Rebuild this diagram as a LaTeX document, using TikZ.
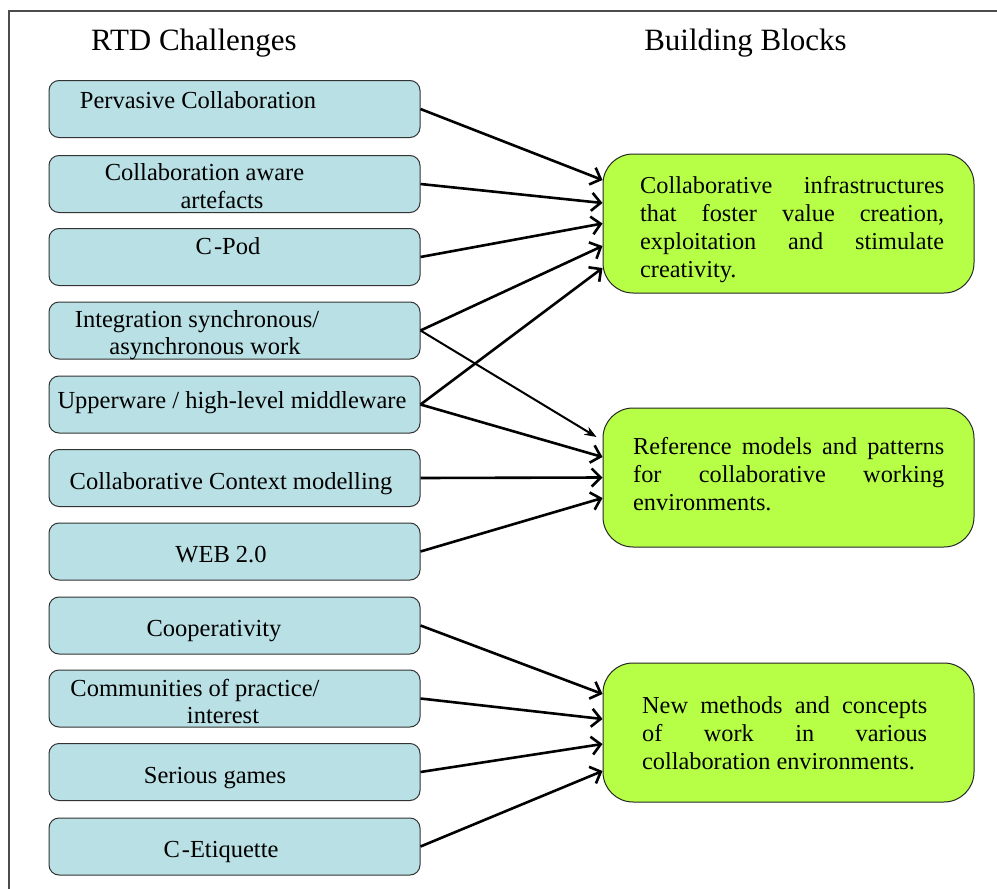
\documentclass[tikz,border=0pt]{standalone}
\usepackage{fontspec}
\setmainfont{Liberation Serif}
\usetikzlibrary{arrows.meta,calc}
\definecolor{boxblue}{RGB}{185,224,228}
\definecolor{boxgreen}{RGB}{183,255,71}
\begin{document}
\begin{tikzpicture}[x=1pt,y=-1pt,
 challenge/.style={draw=black!80, line width=1pt, fill=boxblue, rounded corners=10pt, minimum width=371pt, minimum height=57pt, inner sep=0pt},
 block/.style={draw=black!85, line width=1pt, fill=boxgreen, rounded corners=30pt, minimum width=371pt, minimum height=139pt, inner sep=0pt},
 lbl/.style={anchor=base, inner sep=0pt, font=\fontsize{24.5}{28}\selectfont},
 title/.style={anchor=base, inner sep=0pt, font=\fontsize{31}{36}\selectfont},
 btext/.style={anchor=base west, inner sep=0pt, font=\fontsize{24.3}{28}\selectfont},
 conn/.style={line width=2.6pt, -{Straight Barb[length=9pt,width=18pt]}},
 thinconn/.style={line width=2pt, -{Stealth[length=12pt,width=9pt]}},
]
\useasboundingbox (0,0) rectangle (997,889);
\fill[white] (0,0) rectangle (997,889);
\draw[line width=1.8pt, black!70] (9,889) -- (9,11) -- (997,11);

\node[title] (h1) at (194,50) {RTD Challenges};
\node[title] (h2) at (745.5,50) {Building Blocks};

\node[challenge] (c1) at (234.5,109) {};
\node[challenge] (c2) at (234.5,184) {};
\node[challenge] (c3) at (234.5,257) {};
\node[challenge] (c4) at (234.5,330.5) {};
\node[challenge] (c5) at (234.5,404.5) {};
\node[challenge] (c6) at (234.5,478) {};
\node[challenge] (c7) at (234.5,551.5) {};
\node[challenge] (c8) at (234.5,625.5) {};
\node[challenge] (c9) at (234.5,698.5) {};
\node[challenge] (c10) at (234.5,772) {};
\node[challenge] (c11) at (234.5,846.5) {};

\node[lbl] (t1) at (198,108) {Pervasive Collaboration};
\node[lbl] (t2a) at (204.5,180) {Collaboration aware};
\node[lbl] (t2b) at (222,208) {artefacts};
\node[lbl] (t3) at (228,254) {C\hspace{2pt}-Pod};
\node[lbl] (t4a) at (197,327) {Integration synchronous/};
\node[lbl] (t4b) at (205,354) {asynchronous work};
\node[lbl] (t5) at (232,408) {Upperware / high-level middleware};
\node[lbl] (t6) at (231,489) {Collaborative Context modelling};
\node[lbl] (t7) at (221,562) {WEB 2.0};
\node[lbl] (t8) at (214,636) {Cooperativity};
\node[lbl] (t9a) at (195,696) {Communities of practice/};
\node[lbl] (t9b) at (223,723) {interest};
\node[lbl] (t10) at (215,783) {Serious games};
\node[lbl] (t11) at (221,857) {C\hspace{2pt}-Etiquette};

\node[block] (g1) at (788.5,223.5) {};
\node[block] (g2) at (788.5,477.5) {};
\node[block] (g3) at (788.5,732.5) {};

\node[btext] (b1) at (640,193) {\vtop{\hbox to 304pt{Collaborative\hfill infrastructures}\hbox to 304pt{that\hfill foster\hfill value\hfill creation,}\hbox to 304pt{exploitation\hfill and\hfill stimulate}\hbox{creativity.}}};
\node[btext] (b2) at (633,454) {\vtop{\hbox to 311pt{Reference\hfill models\hfill and\hfill patterns}\hbox to 311pt{for\hfill collaborative\hfill working}\hbox{environments.}}};
\node[btext] (b3) at (642,713) {\vtop{\hbox to 285pt{New\hfill methods\hfill and\hfill concepts}\hbox to 285pt{of\hfill work\hfill in\hfill various}\hbox{collaboration environments.}}};

\draw[conn] (c1.east) -- ($(g1.west)+(0,-43.5)$);
\draw[conn] (c2.east) -- ($(g1.west)+(0,-20.5)$);
\draw[conn] (c3.east) -- (g1.west);
\draw[conn] (c4.east) -- ($(g1.west)+(0,22.5)$);
\draw[conn] (c5.east) -- ($(g1.west)+(0,44.5)$);
\draw[thinconn] (c4.east) -- ($(g2.west)+(-6,-40.5)$);
\draw[conn] (c5.east) -- ($(g2.west)+(0,-20.5)$);
\draw[conn] (c6.east) -- (g2.west);
\draw[conn] (c7.east) -- ($(g2.west)+(0,20.5)$);
\draw[conn] (c8.east) -- ($(g3.west)+(0,-38.5)$);
\draw[conn] (c9.east) -- ($(g3.west)+(0,-13.5)$);
\draw[conn] (c10.east) -- ($(g3.west)+(0,11.5)$);
\draw[conn] (c11.east) -- ($(g3.west)+(0,38.5)$);
\end{tikzpicture}
\end{document}
